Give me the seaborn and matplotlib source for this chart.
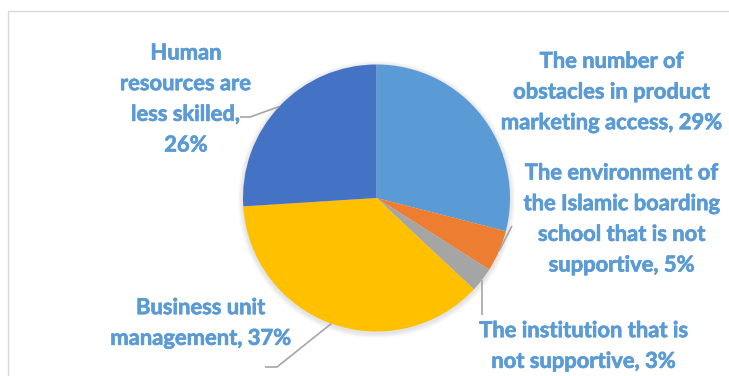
import numpy as np
import matplotlib
matplotlib.use("Agg")
import matplotlib.pyplot as plt
from matplotlib.patches import Rectangle, Circle
import matplotlib.patheffects as pe
import seaborn as sns

# Problems faced by the Islamic boarding school business unit (share of responses)
categories = [
    "The number of\nobstacles in product\nmarketing access",
    "The environment of\nthe Islamic boarding\nschool that is not\nsupportive",
    "The institution that is\nnot supportive",
    "Business unit\nmanagement",
    "Human\nresources are\nless skilled",
]
shares = [29, 5, 3, 37, 26]
value_breaks = [", ", ", ", ", ", ", ", ",\n"]
slice_colors = ["#5B9BD5", "#ED7D31", "#A5A5A5", "#FFC000", "#4472C4"]

sns.set_theme(style="white")
plt.rcParams["font.family"] = ["Lato", "DejaVu Sans"]

W, H = 729, 376
fig = plt.figure(figsize=(W / 100, H / 100), dpi=100)
ax = fig.add_axes([0, 0, 1, 1])

# chart-area frame
fig.patches.append(Rectangle((8 / W, -0.1), 1.0, 1 - 11 / H + 0.1,
                             transform=fig.transFigure, fill=False,
                             edgecolor="#D9D9D9", linewidth=1.0, zorder=0))

cx, cy, r = 376.5, H - 198, 133.5

# soft drop shadow under the pie
for k in range(1, 6):
    ax.add_patch(Circle((cx, cy - 1.5), r + k, facecolor="#808080",
                        edgecolor="none", alpha=0.045, zorder=0))

wedges, _ = ax.pie(shares, colors=slice_colors, startangle=90, counterclock=False,
                   center=(cx, cy), radius=r, wedgeprops=dict(linewidth=0))
for w in wedges:
    w.set_zorder(2)

ax.set_xlim(0, W)
ax.set_ylim(0, H)
ax.set_aspect("equal")
ax.axis("off")

label_color = "#5B9BD5"
line_color = "#A6A6A6"

# label block centres and leader-line bends (pixel coords from top-left)
label_pos = [(612, 92), (622, 219), (584, 346), (201, 323), (186, 99)]
leader_bends = [
    None,
    [(512, 226)],
    [(482, 315)],
    [(277, 367), (265, 367)],
    [(250, 117), (240, 117)],
]

for w, cat, val, sep, (lx, ly), bends in zip(wedges, categories, shares, value_breaks,
                                            label_pos, leader_bends):
    ax.text(lx, H - ly, f"{cat}{sep}{val}%", ha="center", va="center",
            multialignment="center", fontsize=15.8, fontweight="bold",
            color=label_color, linespacing=1.57, zorder=3,
            path_effects=[pe.withStroke(linewidth=0.5, foreground=label_color)])
    if bends:
        mid = np.deg2rad((w.theta1 + w.theta2) / 2)
        xs = [cx + r * np.cos(mid)] + [b[0] for b in bends]
        ys = [cy + r * np.sin(mid)] + [H - b[1] for b in bends]
        ax.plot(xs, ys, color=line_color, linewidth=1.2, solid_capstyle="butt", zorder=3)

fig.savefig("out.png", dpi=100)
